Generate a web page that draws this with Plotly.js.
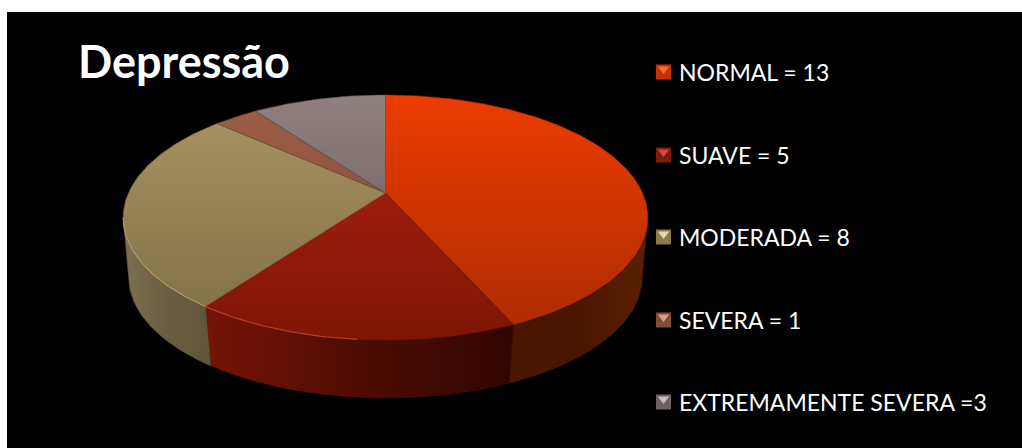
<!DOCTYPE html>
<html>
<head>
<meta charset="utf-8">
<script src="https://cdn.plot.ly/plotly-3.0.1.min.js"></script>
<style>html,body{margin:0;padding:0;background:#fff}#chart{width:1022px;height:448px}</style>
</head>
<body>
<div id="chart"></div>
<script>
// Depression severity counts
const categories = ['NORMAL', 'SUAVE', 'MODERADA', 'SEVERA', 'EXTREMAMENTE SEVERA'];
const counts = [13, 5, 8, 1, 3];
const legendLabels = ['NORMAL = 13', 'SUAVE = 5', 'MODERADA = 8', 'SEVERA = 1', 'EXTREMAMENTE SEVERA =3'];

// Shading per slice: top face (far edge to near edge), wall (left to right), rim highlight
const faceColors = [
  ['#ec3c00', '#ab2b00'],
  ['#b22312', '#7e1504'],
  ['#ab9565', '#7f6c45'],
  ['#a05f48', '#6e4535'],
  ['#928080', '#5e5252']
];
const wallColors = [
  ['#4a1600', '#4a1500', '#5a2002'],
  ['#761408', '#4e0c02', '#300600'],
  ['#7d7050', '#6a5e42', '#5f5339'],
  ['#50281c', '#50281c', '#50281c'],
  ['#444040', '#444040', '#444040']
];
const rimColors = ['#c23a10', '#d8583c', '#cdb680', '#a05f48', '#928080'];
const swatchColors = [
  ['#c23208', '#ff6a30'],
  ['#7c1c10', '#d8483a'],
  ['#8a7a4e', '#ead8a0'],
  ['#824c3a', '#e09a7c'],
  ['#6c6060', '#c8bcbc']
];

// Projected discs: the upper and lower rims of a cylinder seen in perspective
const upperDisc = { cx: 385.5, cy: 193, halfWidth: 257, reach: 117.6, tilt: 0.2 };
const lowerDisc = { cx: 385.5, cy: 254.8, halfWidth: 252, reach: 116, tilt: 0.19 };
const faceRange = [95, 340];
// Angular span of the wall that faces the viewer
const frontFrom = 101.5 * Math.PI / 180, frontTo = 258.5 * Math.PI / 180;
// Where the bevel highlight fades out on each lit slice
const rimSpans = [[185, 216], [216, 258.5]];
const rimSlices = [1, 2];
const swatchX = 663.5, labelX = 677, rowY = [72, 155, 237, 320, 402];

function project(theta, d) {
  const w = 1 + d.tilt * Math.cos(theta);
  return [d.cx + d.halfWidth * Math.sin(theta) / w, d.cy - d.reach * Math.cos(theta) / w];
}

function arc(from, to, d) {
  const n = Math.max(2, Math.ceil(Math.abs(to - from) * 60));
  const pts = [];
  for (let i = 0; i <= n; i++) pts.push(project(from + (to - from) * i / n, d));
  return pts;
}

function ramp(stops) {
  return stops.map((c, i) => [i / (stops.length - 1), c]);
}

function polyTrace(pts, stops, type, start, stop) {
  return {
    type: 'scatter', mode: 'lines', hoverinfo: 'skip', showlegend: false,
    x: pts.map(p => p[0]), y: pts.map(p => p[1]),
    fill: 'toself',
    line: { width: 0.6, color: stops[Math.floor(stops.length / 2)] },
    fillgradient: { type: type, colorscale: ramp(stops), start: start, stop: stop }
  };
}

const total = counts.reduce((a, b) => a + b, 0);
const edges = [0];
counts.forEach((v, i) => edges.push(edges[i] + v / total * 2 * Math.PI));

const traces = [];

// Side walls: only the part of each slice turned towards the viewer
counts.forEach((v, i) => {
  const a = Math.max(edges[i], frontFrom), b = Math.min(edges[i + 1], frontTo);
  if (b <= a) return;
  const top = arc(a, b, upperDisc);
  const pts = top.concat(arc(b, a, lowerDisc));
  pts.push(top[0]);
  const xs = pts.map(p => p[0]);
  traces.push(polyTrace(pts, wallColors[i], 'horizontal', Math.min(...xs), Math.max(...xs)));
});

// Top faces
counts.forEach((v, i) => {
  const centre = [upperDisc.cx, upperDisc.cy];
  const pts = [centre].concat(arc(edges[i], edges[i + 1], upperDisc), [centre]);
  traces.push(polyTrace(pts, faceColors[i], 'vertical', faceRange[0], faceRange[1]));
});

// Thin bevel along the near edge of the left-hand slices
rimSlices.forEach((slice, k) => {
  const pts = arc(rimSpans[k][0] * Math.PI / 180, rimSpans[k][1] * Math.PI / 180, upperDisc);
  traces.push({
    type: 'scatter', mode: 'lines', hoverinfo: 'skip', showlegend: false,
    x: pts.map(p => p[0]), y: pts.map(p => p[1]),
    line: { width: 1.2, color: rimColors[slice] }, opacity: 0.65
  });
});

// Legend keys: bevelled square with a lighter wedge, text beside it
traces.push({
  type: 'scatter', mode: 'markers', hoverinfo: 'skip', showlegend: false,
  x: rowY.map(() => swatchX), y: rowY,
  marker: { symbol: 'square', size: 15, color: swatchColors.map(c => c[0]), line: { width: 0 } }
});
traces.push({
  type: 'scatter', mode: 'markers', hoverinfo: 'skip', showlegend: false,
  x: rowY.map(() => swatchX), y: rowY.map(y => y - 3),
  marker: { symbol: 'triangle-down', size: 10, color: swatchColors.map(c => c[1]), line: { width: 0 } }
});

const layout = {
  width: 1022, height: 448,
  margin: { l: 7, t: 12, r: 0, b: 0, pad: 0 },
  paper_bgcolor: '#ffffff',
  plot_bgcolor: '#000000',
  showlegend: false,
  hovermode: false,
  xaxis: { range: [7, 1022], visible: false, fixedrange: true },
  yaxis: { range: [448, 12], visible: false, fixedrange: true },
  annotations: [
    {
      text: '<b>Depressão</b>', xref: 'x', yref: 'y', x: 76, y: 61,
      xanchor: 'left', yanchor: 'middle', showarrow: false,
      font: { family: 'Lato, sans-serif', size: 45, color: '#ffffff' }
    }
  ].concat(legendLabels.map((t, i) => ({
    text: t, xref: 'x', yref: 'y', x: labelX, y: rowY[i],
    xanchor: 'left', yanchor: 'middle', showarrow: false,
    font: { family: 'Lato, sans-serif', size: 23, color: '#ffffff' }
  })))
};

Plotly.newPlot('chart', traces, layout, { displayModeBar: false, staticPlot: true });
</script>
</body>
</html>
